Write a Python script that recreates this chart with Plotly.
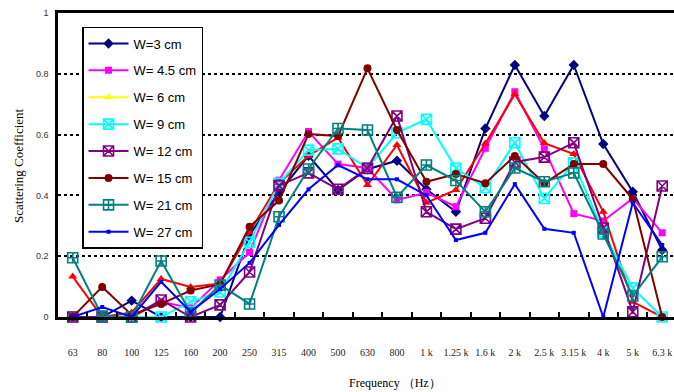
import plotly.graph_objects as go

freq_labels = ["63", "80", "100", "125", "160", "200", "250", "315", "400", "500", "630",
               "800", "1 k", "1.25 k", "1.6 k", "2 k", "2.5 k", "3.15 k", "4 k", "5 k", "6.3 k"]

w3 = [0, 0, 0.054, 0, 0, 0, 0.27, 0.41, 0.53, 0.418, 0.486, 0.514, 0.42, 0.346, 0.62,
      0.829, 0.661, 0.829, 0.569, 0.412, 0.22]
w4_5 = [0, 0, 0, 0.05, 0.03, 0.122, 0.213, 0.45, 0.61, 0.503, 0.49, 0.385, 0.409, 0.363,
        0.555, 0.741, 0.553, 0.34, 0.316, 0.39, 0.277]
w6 = [0.133, 0, 0.015, 0.125, 0.099, 0.11, 0.28, 0.44, 0.53, 0.59, 0.434, 0.566, 0.376,
      0.418, 0.571, 0.733, 0.572, 0.536, 0.346, 0.05, 0]
w9 = [0, 0, 0, 0, 0.05, 0.082, 0.246, 0.44, 0.549, 0.553, 0.49, 0.606, 0.65, 0.489, 0.425,
      0.573, 0.39, 0.507, 0.28, 0.095, 0]
w12 = [0, 0, 0, 0.056, 0, 0.04, 0.148, 0.432, 0.474, 0.42, 0.489, 0.661, 0.346, 0.289,
       0.325, 0.51, 0.526, 0.573, 0.293, 0.017, 0.431]
w15 = [0, 0.099, 0.007, 0.043, 0.087, 0.108, 0.297, 0.383, 0.602, 0.595, 0.818, 0.615,
       0.445, 0.47, 0.44, 0.53, 0.44, 0.503, 0.503, 0.388, 0]
w21 = [0.195, 0.003, 0, 0.184, 0.014, 0.105, 0.043, 0.33, 0.487, 0.62, 0.615, 0.394, 0.5,
       0.449, 0.346, 0.49, 0.445, 0.474, 0.273, 0.069, 0.198]
w27 = [0, 0.033, 0, 0.116, 0.017, 0.092, 0.178, 0.303, 0.42, 0.5, 0.453, 0.453, 0.40,
       0.253, 0.277, 0.437, 0.29, 0.277, 0, 0.376, 0.237]

y_ticks = [0, 0.2, 0.4, 0.6, 0.8, 1]
y_tick_text = ["0", "0.2", "0.4", "0.6", "0.8", "1"]

# name, values, line colour, legend colour, marker symbol, marker size
series = [
    ("W=3 cm", w3, "#000080", "#000080", "diamond", 8),
    ("W= 4.5 cm", w4_5, "#FF00FF", "#FF00FF", "square", 7),
    ("W= 6 cm", w6, "#FF0000", "#FFFF00", "triangle-up", 8),
    ("W= 9 cm", w9, "#00FFFF", "#00FFFF", "square-x-open", 10),
    ("W= 12 cm", w12, "#800080", "#800080", "square-x-open", 10),
    ("W= 15 cm", w15, "#800000", "#800000", "circle", 8),
    ("W= 21 cm", w21, "#008080", "#008080", "square-cross-open", 10),
    ("W= 27 cm", w27, "#0000FF", "#0000FF", "square", 4),
]

fig = go.Figure()
for i, (name, vals, color, lcolor, symbol, size) in enumerate(series):
    open_marker = symbol.endswith("open")
    marker = dict(symbol=symbol, size=size, color=color,
                  line=dict(width=1.6 if open_marker else 0, color=color))
    same = color == lcolor
    fig.add_trace(go.Scatter(
        x=freq_labels, y=vals, mode="lines+markers", name=name,
        line=dict(color=color, width=2), marker=marker,
        cliponaxis=False, showlegend=same, legendgroup=f"g{i}", legendrank=i,
    ))
    if not same:
        # legend entry drawn in its own key colour
        lmarker = dict(marker)
        lmarker["color"] = lcolor
        lmarker["line"] = dict(width=0, color=lcolor)
        fig.add_trace(go.Scatter(
            x=[None], y=[None], mode="lines+markers", name=name,
            line=dict(color=lcolor, width=2), marker=lmarker,
            showlegend=True, legendgroup=f"g{i}", legendrank=i,
        ))

fig.update_layout(
    width=674, height=392,
    margin=dict(l=58, r=0, t=13, b=75),
    paper_bgcolor="white", plot_bgcolor="white",
    showlegend=True,
    legend=dict(
        x=0.039, y=0.954, xanchor="left", yanchor="top",
        bgcolor="white", bordercolor="black", borderwidth=1.5,
        font=dict(family="Liberation Sans, Arial", size=13, color="black"),
        tracegroupgap=7, traceorder="grouped", itemwidth=40,
    ),
    xaxis=dict(
        type="category", categoryorder="array", categoryarray=freq_labels,
        range=[-0.5, 20.4],
        showline=True, linecolor="black", linewidth=2.5, mirror=True,
        showgrid=False, zeroline=False,
        tickson="boundaries", ticks="inside", ticklen=5, tickwidth=1.5, tickcolor="black",
        ticklabelstandoff=24, tickangle=0,
        tickfont=dict(family="Liberation Serif, Times New Roman", size=10, color="#222"),
    ),
    yaxis=dict(
        range=[0, 1], tickvals=y_ticks, ticktext=y_tick_text,
        showline=True, linecolor="black", linewidth=2.5,
        showgrid=True, gridcolor="black", gridwidth=1.5, griddash="dot",
        zeroline=False, ticks="", ticklabelstandoff=5,
        tickfont=dict(family="Liberation Sans, Arial", size=9, color="#333"),
    ),
    annotations=[
        dict(text="Frequency （Hz）", xref="paper", yref="paper", x=0.547, y=-0.217,
             xanchor="center", yanchor="middle", showarrow=False,
             font=dict(family="Liberation Serif, Times New Roman", size=12, color="black")),
        dict(text="Scattering Coefficient", xref="paper", yref="paper", x=-0.065, y=0.5,
             xanchor="center", yanchor="middle", showarrow=False, textangle=-90,
             font=dict(family="Liberation Serif, Times New Roman", size=13, color="black")),
    ],
)

fig.write_html("out.html")
